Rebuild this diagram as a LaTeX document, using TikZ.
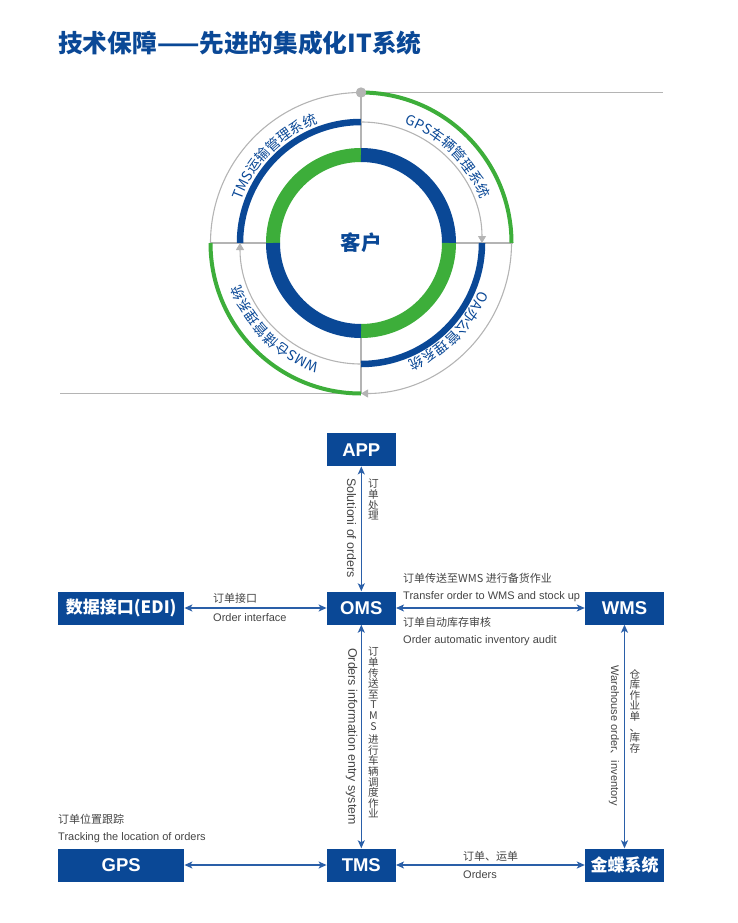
\documentclass[tikz,border=0pt]{standalone}
\usepackage{fontspec}
\setmainfont{Liberation Sans}
\newfontfamily\cjk{Noto Sans CJK SC}
\usetikzlibrary{arrows.meta,decorations.text}
\definecolor{tblue}{HTML}{0A4896}
\definecolor{tgreen}{HTML}{3DAE3A}
\definecolor{lgray}{HTML}{B4B4B4}
\definecolor{lblue}{HTML}{2A5FA8}
\definecolor{tgray}{HTML}{444444}
\begin{document}
\begin{tikzpicture}[x=1pt,y=1pt,
  box/.style={fill=tblue, text=white, font=\bfseries\fontsize{18.5}{18.5}\selectfont, minimum height=33pt, inner sep=0pt},
  cbox/.style={box, font=\cjk\bfseries\fontsize{17}{17}\selectfont},
  link/.style={draw=lblue, line width=1.3pt, {Stealth[length=8pt,width=7pt,inset=2pt]}-{Stealth[length=8pt,width=7pt,inset=2pt]}},
  en/.style={font=\fontsize{11}{11}\selectfont, text=tgray, inner sep=0pt, anchor=base west},
  zh/.style={font=\cjk\fontsize{11}{11}\selectfont, text=tgray, inner sep=0pt, anchor=base west},
  vzh/.style={font=\cjk\fontsize{10.6}{10.6}\selectfont, text=tgray, inner sep=0pt, align=center, anchor=north},
  ven/.style={font=\fontsize{11}{11}\selectfont, text=tgray, inner sep=0pt, rotate=-90},
  venl/.style={ven, font=\fontsize{12.4}{12.4}\selectfont},
  grayline/.style={draw=lgray, line width=1.1pt},
  grayarc/.style={draw=lgray, line width=1.1pt},
  garrow/.style={-{Triangle[length=7pt,width=8pt]}, draw=lgray, line width=1.1pt},
  ring/.style={line width=14pt},
  midarc/.style={draw=tblue, line width=6.5pt},
  outgreen/.style={draw=tgreen, line width=4pt},
  arctext/.style={decorate, decoration={text along path, text align=center, text={|\cjk\fontsize{14}{14}\selectfont\color{tblue}|#1}}}
]
\useasboundingbox (0,0) rectangle (738,-923);

% title
\node[anchor=west, inner sep=0pt, text=tblue, font=\cjk\bfseries\fontsize{24.7}{24.7}\selectfont] (title) at (58,-43) {技术保障——先进的集成化IT系统};

% ---- circle diagram ----
\coordinate (c) at (361,-243);
\coordinate (topdot) at (361,-92.5);
\coordinate (topend) at (663,-92.5);
\coordinate (botend) at (60,-393.5);
\coordinate (botmid) at (361,-393.5);

\draw[grayline] (topdot) -- (topend);
\draw[grayline] (botend) -- (botmid);
\draw[grayline] (topdot) -- (361,-150);
\draw[grayline] (361,-336) -- (botmid);
\draw[grayline] (209.5,-243) -- (268,-243);
\draw[grayline] (454,-243) -- (512.5,-243);

% outer ring r=150.5
\draw[grayarc] (210.5,-243) arc[start angle=180, end angle=90, radius=150.5];
\draw[outgreen] (361,-92.5) arc[start angle=90, end angle=0, radius=150.5];
\draw[garrow] (511.5,-243) arc[start angle=0, end angle=-90, radius=150.5];
\draw[outgreen] (361,-393.5) arc[start angle=270, end angle=180, radius=150.5];

% middle ring r=121
\draw[midarc] (240,-243) arc[start angle=180, end angle=90, radius=121];
\draw[garrow] (361,-122) arc[start angle=90, end angle=0, radius=121];
\draw[midarc] (482,-243) arc[start angle=0, end angle=-90, radius=121];
\draw[garrow] (361,-364) arc[start angle=270, end angle=180, radius=121];

% inner ring r=88
\draw[ring, draw=tgreen] (273,-243) arc[start angle=180, end angle=90, radius=88];
\draw[ring, draw=tblue] (361,-155) arc[start angle=90, end angle=0, radius=88];
\draw[ring, draw=tgreen] (449,-243) arc[start angle=0, end angle=-90, radius=88];
\draw[ring, draw=tblue] (361,-331) arc[start angle=270, end angle=180, radius=88];

\fill[lgray] (topdot) circle[radius=5.2pt];

\node[text=tblue, font=\cjk\bfseries\fontsize{20.5}{20.5}\selectfont, inner sep=0pt] (kehu) at (c) {客户};

% arc texts
\path[arctext={TMS运输管理系统}] (234,-243) arc[start angle=180, end angle=90, radius=127];
\path[arctext={GPS车辆管理系统}] (361,-116) arc[start angle=90, end angle=0, radius=127];
\path[arctext={OA办公管理系统}] (488,-243) arc[start angle=0, end angle=-90, radius=127];
\path[arctext={WMS仓储管理系统}] (361,-370) arc[start angle=270, end angle=180, radius=127];

% ---- flow diagram ----
\node[box, minimum width=69pt] (app) at (361.3,-449.7) {APP};
\node[box, minimum width=69pt] (oms) at (361.3,-608) {OMS};
\node[box, minimum width=79pt] (wms) at (624.5,-608) {WMS};
\node[cbox, minimum width=126pt] (edi) at (121.2,-608) {数据接口(EDI)};
\node[box, minimum width=126pt] (gps) at (121.2,-865) {GPS};
\node[box, minimum width=69pt] (tms) at (361.3,-865) {TMS};
\node[cbox, minimum width=79pt] (kd) at (624.5,-865) {金蝶系统};

\draw[link] (app) -- (oms);
\draw[link] (edi) -- (oms);
\draw[link] (oms) -- (wms);
\draw[link] (oms) -- (tms);
\draw[link] (wms) -- (kd);
\draw[link] (gps) -- (tms);
\draw[link] (tms) -- (kd);

% labels
\node[venl] (l1) at (351.5,-528) {Solutioni of orders};
\node[vzh] (l2) at (373.5,-479) {订\\单\\处\\理};

\node[zh] (l3) at (403,-582) {订单传送至WMS 进行备货作业};
\node[en] (l4) at (403,-599) {Transfer order to WMS and stock up};
\node[zh] (l5) at (403,-626) {订单自动库存审核};
\node[en] (l6) at (403,-643) {Order automatic inventory audit};

\node[zh] (l7) at (213,-602) {订单接口};
\node[en] (l8) at (213,-621) {Order interface};

\node[venl] (l9) at (351.5,-736.5) {Orders information entry system};
\node[vzh] (l10) at (373.5,-647) {订\\单\\传\\送\\至\\T\\M\\S\\[3pt]进\\行\\车\\辆\\调\\度\\作\\业};

\node[ven] (l11) at (614,-735.5) {Warehouse order{\cjk 、}inventory};
\node[vzh] (l12) at (635,-669) {仓\\库\\作\\业\\单\\、\\库\\存};

\node[zh] (l13) at (463,-860) {订单、运单};
\node[en] (l14) at (463,-878) {Orders};

\node[zh] (l15) at (58,-823) {订单位置跟踪};
\node[en] (l16) at (58,-840) {Tracking the location of orders};
\end{tikzpicture}
\end{document}
